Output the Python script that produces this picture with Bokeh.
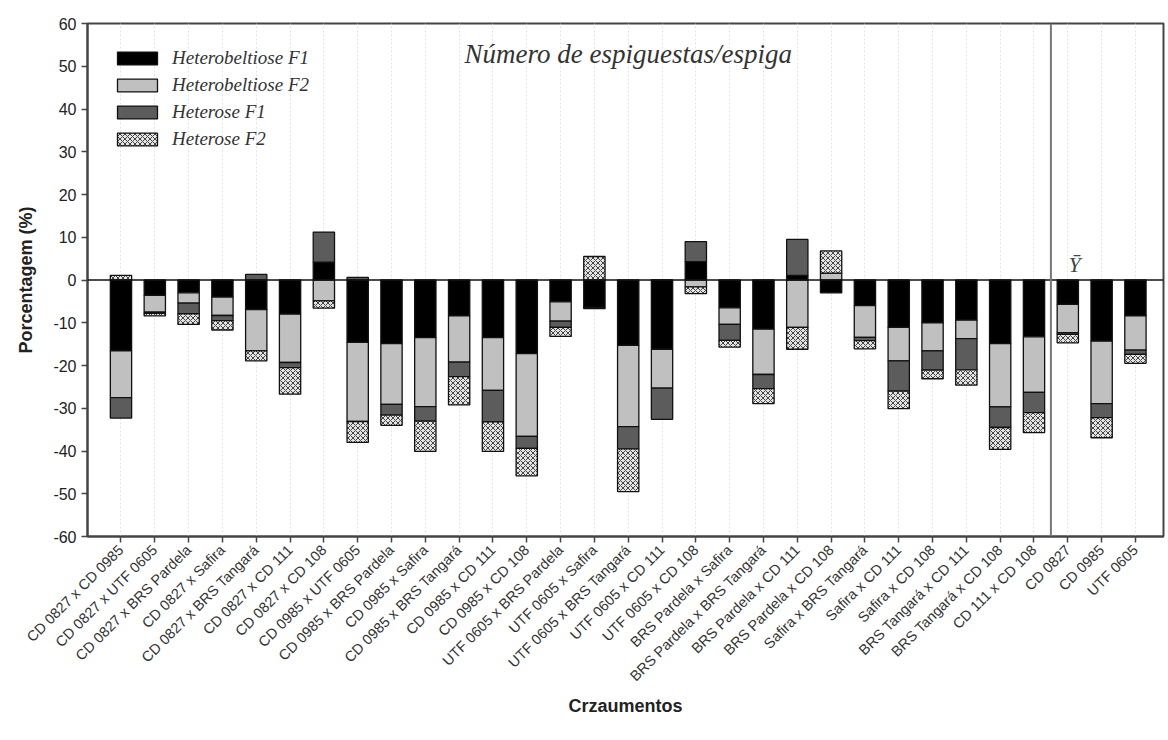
import math
from bokeh.plotting import figure
from bokeh.models import (Range1d, FixedTicker, Label, Span, Legend, LegendItem)
from bokeh.embed import file_html
from bokeh.resources import INLINE

# Crosses and parents (x categories)
crosses = [
    "CD 0827 x CD 0985", "CD 0827 x UTF 0605", "CD 0827 x BRS Pardela",
    "CD 0827 x Safira", "CD 0827 x BRS Tangará", "CD 0827 x CD 111",
    "CD 0827 x CD 108", "CD 0985 x UTF 0605", "CD 0985 x BRS Pardela",
    "CD 0985 x Safira", "CD 0985 x BRS Tangará", "CD 0985 x CD 111",
    "CD 0985 x CD 108", "UTF 0605 x BRS Pardela", "UTF 0605 x Safira",
    "UTF 0605 x BRS Tangará", "UTF 0605 x CD 111", "UTF 0605 x CD 108",
    "BRS Pardela x Safira", "BRS Pardela x BRS Tangará", "BRS Pardela x CD 111",
    "BRS Pardela x CD 108", "Safira x BRS Tangará", "Safira x CD 111",
    "Safira x CD 108", "BRS Tangará x CD 111", "BRS Tangará x CD 108",
    "CD 111 x CD 108", "CD 0827", "CD 0985", "UTF 0605",
]

# Stacked segment values (%) per series
heterobeltiose_f1 = [-16.6, -3.6, -3.0, -4.0, -6.9, -8.0, 4.2, -14.6, -14.9, -13.5,
                     -8.4, -13.5, -17.2, -5.1, -6.4, -15.3, -16.2, 4.3, -6.5, -11.5,
                     1.1, -3.0, -6.0, -11.1, -10.0, -9.4, -14.9, -13.3, -5.7, -14.3, -8.4]
heterobeltiose_f2 = [-10.9, -3.9, -2.4, -4.3, -9.7, -11.3, -4.9, -18.5, -14.2, -16.1,
                     -10.8, -12.3, -19.4, -4.5, 0.0, -19.0, -9.1, -1.6, -3.9, -10.6,
                     -11.1, 1.6, -7.4, -7.8, -6.6, -4.3, -14.8, -13.0, -6.6, -14.6, -8.0]
heterose_f1 = [-4.8, -0.3, -2.5, -1.2, 1.3, -1.2, 7.0, 0.6, -2.5, -3.4,
               -3.4, -7.4, -2.8, -1.5, -0.3, -5.2, -7.3, 4.7, -3.7, -3.3,
               8.4, 0.0, -0.8, -7.1, -4.5, -7.3, -4.8, -4.7, -0.4, -3.3, -1.0]
heterose_f2 = [1.1, -0.6, -2.5, -2.2, -2.3, -6.2, -1.7, -4.9, -2.4, -7.1,
               -6.6, -6.9, -6.4, -2.1, 5.5, -10.0, 0.0, -1.6, -1.6, -3.5,
               -5.1, 5.2, -1.9, -4.1, -2.0, -3.6, -5.1, -4.7, -2.0, -4.7, -2.1]

series_names = ["Heterobeltiose F1", "Heterobeltiose F2", "Heterose F1", "Heterose F2"]
y_ticks = list(range(-60, 61, 10))

x = list(range(1, len(crosses) + 1))

p = figure(width=1168, height=740, output_backend="svg", toolbar_location=None,
           x_range=Range1d(0.01, 31.83), y_range=Range1d(-60, 60),
           min_border_left=87, min_border_right=5, min_border_top=23,
           min_border_bottom=204)
p.background_fill_color = "white"
p.border_fill_color = "white"
p.outline_line_color = "#444444"
p.outline_line_width = 2

# axes
p.xaxis.ticker = FixedTicker(ticks=x)
p.xaxis.major_label_overrides = {i: c for i, c in zip(x, crosses)}
p.xaxis.major_label_orientation = math.pi / 4
p.xaxis.major_label_text_font = "Liberation Sans"
p.xaxis.major_label_text_font_size = "14.5px"
p.xaxis.major_label_text_color = "#333333"
p.xaxis.minor_tick_line_color = None
p.xaxis.axis_label = "Crzaumentos"
p.xaxis.axis_label_standoff = 3

p.yaxis.ticker = FixedTicker(ticks=y_ticks)
p.yaxis.major_label_overrides = {t: str(t) for t in y_ticks}
p.yaxis.major_label_text_font = "Liberation Sans"
p.yaxis.major_label_text_font_size = "16px"
p.yaxis.major_label_text_color = "#222222"
p.yaxis.minor_tick_line_color = None
p.yaxis.axis_label = "Porcentagem (%)"
p.yaxis.axis_label_standoff = 14

for ax in (p.xaxis, p.yaxis):
    ax.axis_line_color = "#444444"
    ax.axis_line_width = 2
    ax.major_tick_line_color = "#444444"
    ax.major_tick_line_width = 1.5
    ax.major_tick_out = 6
    ax.major_tick_in = 0
    ax.axis_label_text_font = "Liberation Sans"
    ax.axis_label_text_font_style = "bold"
    ax.axis_label_text_font_size = "18px"
    ax.axis_label_text_color = "#222222"

p.xgrid.grid_line_color = "#e4e4e4"
p.xgrid.grid_line_dash = "2 2"
p.ygrid.grid_line_color = None

# stacked bars: positive values stack upward, negative ones downward
styles = [
    dict(fill_color="#000000"),
    dict(fill_color="#c0c0c0"),
    dict(fill_color="#5c5c5c"),
    dict(fill_color="#e4e4e4", hatch_pattern="x", hatch_scale=5,
         hatch_color="#444444", hatch_weight=1),
]
pos_base = [0.0] * len(x)
neg_base = [0.0] * len(x)
renderers = []
for vals, st in zip([heterobeltiose_f1, heterobeltiose_f2, heterose_f1, heterose_f2], styles):
    bottoms, tops = [], []
    for i, v in enumerate(vals):
        if v >= 0:
            bottoms.append(pos_base[i]); tops.append(pos_base[i] + v); pos_base[i] += v
        else:
            bottoms.append(neg_base[i] + v); tops.append(neg_base[i]); neg_base[i] += v
    r = p.vbar(x=x, bottom=bottoms, top=tops, width=0.63,
               line_color="#111111", line_width=1.3, **st)
    renderers.append(r)

p.add_layout(Span(location=0, dimension="width", line_color="#111111", line_width=1.5))
p.add_layout(Span(location=28.5, dimension="height", line_color="#777777", line_width=2))

legend = Legend(items=[LegendItem(label=n, renderers=[r]) for n, r in zip(series_names, renderers)],
                location=(25, 386), orientation="vertical",
                glyph_width=50, glyph_height=16, label_height=16, spacing=5,
                padding=0, margin=0, label_standoff=10,
                border_line_alpha=0, background_fill_alpha=0,
                label_text_font="Liberation Serif", label_text_font_style="italic",
                label_text_font_size="19px", label_text_color="#333333")
p.add_layout(legend)

p.add_layout(Label(x=16.0, y=52.9, text="Número de espiguestas/espiga",
                   text_font="Liberation Serif", text_font_style="italic",
                   text_font_size="27px", text_color="#333333",
                   text_align="center", text_baseline="middle"))
p.add_layout(Label(x=29.2, y=0.8, text="Ȳ",
                   text_font="Liberation Serif", text_font_style="italic",
                   text_font_size="22px", text_color="#444444",
                   text_align="center", text_baseline="bottom"))

open("out.html", "w").write(file_html(p, INLINE))
